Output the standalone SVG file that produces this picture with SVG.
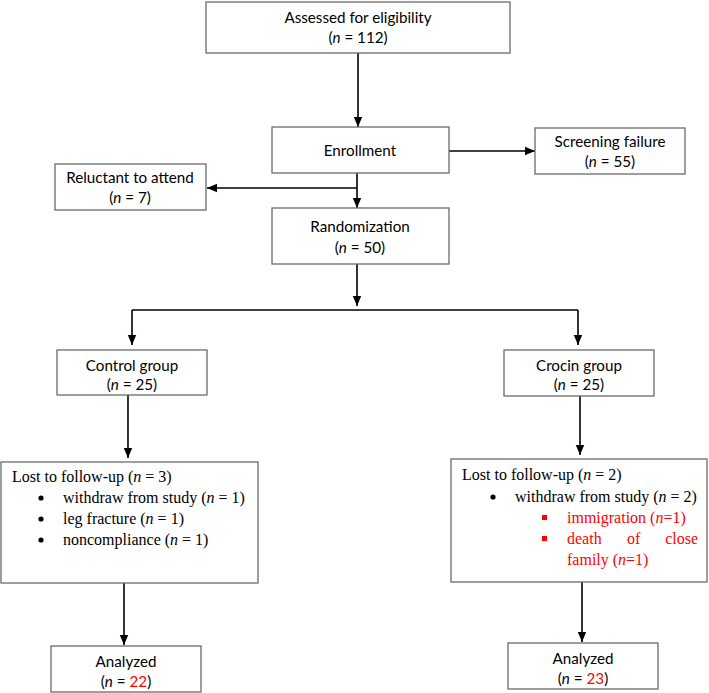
<svg xmlns="http://www.w3.org/2000/svg" width="709" height="693" viewBox="0 0 709 693">
<style>
.box{fill:#fff;stroke:#6b6b6b;stroke-width:1.3}
.s{font-family:Lato,"Liberation Sans",sans-serif;font-size:15.2px;fill:#000;text-anchor:middle}
.t{font-family:"Liberation Serif","Times New Roman",serif;font-size:16px;fill:#000}
.r{fill:#f00}
.c{stroke:#000;stroke-width:1.6;fill:none}
.a{marker-end:url(#ah)}
</style>
<defs>
<marker id="ah" markerUnits="userSpaceOnUse" markerWidth="10" markerHeight="10" viewBox="0 0 10 10" refX="10" refY="5" orient="auto">
<path d="M0,0.8 L10,5 L0,9.2 Z" fill="#000"/>
</marker>
</defs>
<rect width="709" height="693" fill="#fff"/>
<g id="connectors">
<line class="c a" x1="358" y1="53" x2="358" y2="127"/>
<line class="c a" x1="449" y1="151" x2="535" y2="151"/>
<line class="c a" x1="357" y1="173" x2="357" y2="208"/>
<line class="c a" x1="357" y1="188" x2="207" y2="188"/>
<line class="c a" x1="357" y1="264" x2="357" y2="306"/>
<line class="c" x1="132" y1="310" x2="578" y2="310"/>
<line class="c a" x1="132" y1="310" x2="132" y2="345"/>
<line class="c a" x1="578" y1="310" x2="578" y2="345"/>
<line class="c a" x1="128" y1="395" x2="128" y2="458"/>
<line class="c a" x1="580" y1="396" x2="580" y2="455"/>
<line class="c a" x1="124" y1="583" x2="124" y2="645"/>
<line class="c a" x1="582" y1="582" x2="582" y2="642"/>
</g>
<g id="assessed">
<rect class="box" x="206" y="2" width="304" height="51"/>
<text class="s" x="358" y="23">Assessed for eligibility</text>
<text class="s" x="358" y="43">(<tspan font-style="italic">n</tspan> = 112)</text>
</g>
<g id="enrollment">
<rect class="box" x="272" y="127" width="177" height="46"/>
<text class="s" x="360" y="156">Enrollment</text>
</g>
<g id="screening">
<rect class="box" x="535" y="128" width="150" height="46"/>
<text class="s" x="610" y="147">Screening failure</text>
<text class="s" x="610" y="167">(<tspan font-style="italic">n</tspan> = 55)</text>
</g>
<g id="reluctant">
<rect class="box" x="55" y="164" width="151" height="46"/>
<text class="s" x="130" y="183">Reluctant to attend</text>
<text class="s" x="130" y="203">(<tspan font-style="italic">n</tspan> = 7)</text>
</g>
<g id="randomization">
<rect class="box" x="272" y="208" width="177" height="56"/>
<text class="s" x="360" y="232">Randomization</text>
<text class="s" x="360" y="253">(<tspan font-style="italic">n</tspan> = 50)</text>
</g>
<g id="control">
<rect class="box" x="57" y="350" width="150" height="45"/>
<text class="s" x="132" y="371">Control group</text>
<text class="s" x="132" y="390">(<tspan font-style="italic">n</tspan> = 25)</text>
</g>
<g id="crocin">
<rect class="box" x="504" y="350" width="150" height="46"/>
<text class="s" x="579" y="371">Crocin group</text>
<text class="s" x="579" y="390">(<tspan font-style="italic">n</tspan> = 25)</text>
</g>
<g id="lost-control">
<rect class="box" x="1" y="462" width="257" height="121"/>
<text class="t" x="12" y="482">Lost to follow-up (<tspan font-style="italic">n</tspan> = 3)</text>
<circle cx="41" cy="498" r="2.6" fill="#000"/>
<text class="t" x="63" y="503">withdraw from study (<tspan font-style="italic">n</tspan> = 1)</text>
<circle cx="41" cy="519" r="2.6" fill="#000"/>
<text class="t" x="63" y="524">leg fracture (<tspan font-style="italic">n</tspan> = 1)</text>
<circle cx="41" cy="540" r="2.6" fill="#000"/>
<text class="t" x="63" y="545">noncompliance (<tspan font-style="italic">n</tspan> = 1)</text>
</g>
<g id="lost-crocin">
<rect class="box" x="451" y="459" width="256" height="123"/>
<text class="t" x="462" y="480">Lost to follow-up (<tspan font-style="italic">n</tspan> = 2)</text>
<circle cx="493" cy="497" r="2.6" fill="#000"/>
<text class="t" x="515" y="502">withdraw from study (<tspan font-style="italic">n</tspan> = 2)</text>
<rect x="542" y="515" width="5" height="5" fill="#f00"/>
<text class="t r" x="567" y="523">immigration (<tspan font-style="italic">n</tspan>=1)</text>
<rect x="542" y="536" width="5" height="5" fill="#f00"/>
<text class="t r" x="567" y="544">death</text>
<text class="t r" x="627" y="544">of</text>
<text class="t r" x="698" y="544" text-anchor="end">close</text>
<text class="t r" x="567" y="565">family (<tspan font-style="italic">n</tspan>=1)</text>
</g>
<g id="analyzed-control">
<rect class="box" x="51" y="646" width="150" height="46"/>
<text class="s" x="126" y="667">Analyzed</text>
<text class="s" x="126" y="687">(<tspan font-style="italic">n</tspan> = <tspan fill="#f00">22</tspan>)</text>
</g>
<g id="analyzed-crocin">
<rect class="box" x="508" y="643" width="150" height="46"/>
<text class="s" x="583" y="664">Analyzed</text>
<text class="s" x="583" y="684">(<tspan font-style="italic">n</tspan> = <tspan fill="#f00">23</tspan>)</text>
</g>
</svg>
